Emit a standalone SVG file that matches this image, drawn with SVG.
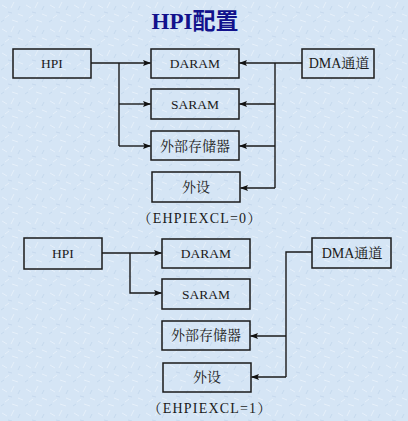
<svg xmlns="http://www.w3.org/2000/svg" width="408" height="421" viewBox="0 0 408 421">
<defs>
<marker id="ah" markerWidth="8" markerHeight="6" refX="7.5" refY="3" orient="auto" markerUnits="userSpaceOnUse">
<path d="M0,0 L8,3 L0,6 L1.5,3 Z" fill="#111"/>
</marker>
<pattern id="tex" width="24" height="24" patternUnits="userSpaceOnUse">
<rect width="24" height="24" fill="#d5e5f5"/>
<path d="M2,5 l5,3 M14,2 l-3,6 M18,14 l5,2 M5,18 l4,-3 M12,20 l6,2" stroke="#e6f0fa" stroke-width="1"/>
<path d="M8,12 l4,1 M20,6 l-2,4 M1,22 l3,-2" stroke="#c6d9ee" stroke-width="1"/>
</pattern>
</defs>
<style>
.box{fill:none;stroke:#1a1a1a;stroke-width:1.5}
.t{font-family:"Liberation Serif","Noto Serif CJK SC","Noto Sans CJK SC",serif;font-size:14px;fill:#1a1a1a;text-anchor:middle}
.l{font-size:13.5px}
.cap{font-size:14px;letter-spacing:1.2px}
.c{stroke:#1a1a1a;stroke-width:1.4;fill:none}
.a{marker-end:url(#ah)}
</style>
<rect width="408" height="421" fill="url(#tex)"/>
<text x="195" y="29" style="font-family:'Liberation Serif','Noto Sans CJK SC',serif;font-size:23px;font-weight:bold;fill:#12128c;text-anchor:middle">HPI配置</text>

<g id="top-hpi"><rect class="box" x="13" y="49" width="78" height="29"/><text class="t l" x="52" y="68">HPI</text></g>
<g id="top-daram"><rect class="box" x="151" y="49" width="88" height="29"/><text class="t l" x="195" y="68">DARAM</text></g>
<g id="top-saram"><rect class="box" x="151" y="89" width="88" height="30"/><text class="t l" x="195" y="109">SARAM</text></g>
<g id="top-ext"><rect class="box" x="151" y="131" width="88" height="29"/><text class="t" x="195" y="151">外部存储器</text></g>
<g id="top-per"><rect class="box" x="152" y="172" width="88" height="30"/><text class="t" x="196" y="192">外设</text></g>
<g id="top-dma"><rect class="box" x="302" y="49" width="72" height="29"/><text class="t" x="339" y="68">DMA通道</text></g>
<text class="t cap" x="200" y="223">（EHPIEXCL=0）</text>

<g id="bot-hpi"><rect class="box" x="24" y="238" width="78" height="31"/><text class="t l" x="63" y="258">HPI</text></g>
<g id="bot-daram"><rect class="box" x="162" y="239" width="88" height="29"/><text class="t l" x="206" y="258">DARAM</text></g>
<g id="bot-saram"><rect class="box" x="162" y="279" width="88" height="30"/><text class="t l" x="206" y="299">SARAM</text></g>
<g id="bot-ext"><rect class="box" x="162" y="321" width="88" height="29"/><text class="t" x="206" y="340">外部存储器</text></g>
<g id="bot-per"><rect class="box" x="163" y="363" width="88" height="29"/><text class="t" x="207" y="382">外设</text></g>
<g id="bot-dma"><rect class="box" x="312" y="238" width="79" height="30"/><text class="t" x="352" y="258">DMA通道</text></g>
<text class="t cap" x="210" y="413">（EHPIEXCL=1）</text>

<g id="connectors">
<path class="c a" d="M91,63 H150.5"/>
<path class="c" d="M119,63 V146"/>
<path class="c a" d="M119,104 H150.5"/>
<path class="c a" d="M119,146 H150.5"/>
<path class="c a" d="M302,63 H239.5"/>
<path class="c" d="M275,63 V188"/>
<path class="c a" d="M275,104 H239.5"/>
<path class="c a" d="M275,146 H239.5"/>
<path class="c a" d="M275,188 H240.5"/>

<path class="c a" d="M102,253 H161.5"/>
<path class="c a" d="M130,253 V293 H161.5"/>
<path class="c" d="M312,252 H286 V377"/>
<path class="c a" d="M286,336 H250.5"/>
<path class="c a" d="M286,377 H251.5"/>
</g>
</svg>
